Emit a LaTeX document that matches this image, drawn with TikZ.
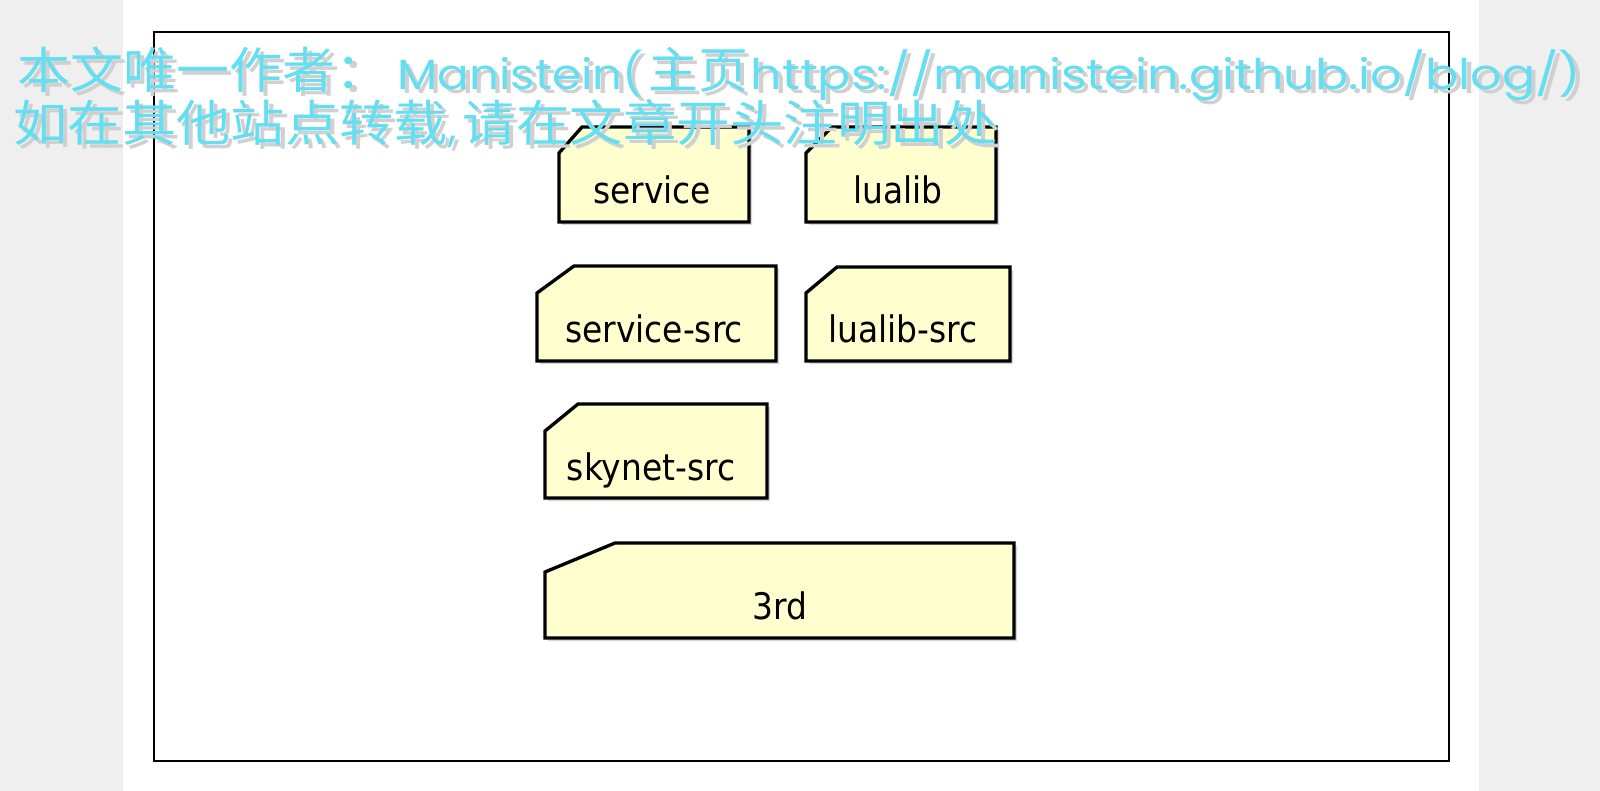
\documentclass[tikz,border=0pt]{standalone}
\usepackage{fontspec}
\setmainfont{DejaVu Sans Condensed}
\newfontfamily\wmcjk{Noto Sans CJK SC}
\newfontfamily\wmlat{Poppins}
\definecolor{pkgfill}{RGB}{254,254,206}
\definecolor{pkgshadow}{RGB}{215,215,215}
\definecolor{sidegray}{RGB}{239,239,239}
\definecolor{wmcyan}{RGB}{100,222,240}
\definecolor{wmshadow}{RGB}{208,208,208}
\newcommand\wmtext[1]{\makebox[0pt][l]{\hspace{1.1pt}\raisebox{-1.1pt}{\textcolor{wmshadow}{#1}}}\textcolor{wmcyan}{#1}}
\newcommand\pkgbox[6]{%
  \fill[pkgshadow] ({#1+3},{#2+#6+3}) -- ({#1+#5+3},{#2+3}) -- ({#3+3},{#2+3}) -- ({#3+3},{#4+3}) -- ({#1+3},{#4+3}) -- cycle;
  \draw[pkg] (#1,{#2+#6}) -- ({#1+#5},#2) -- (#3,#2) -- (#3,#4) -- (#1,#4) -- cycle;}
\tikzset{
  pkg/.style={draw=black, fill=pkgfill, line width=0.95pt, line join=miter},
  lbl/.style={anchor=base, inner sep=0pt, font=\fontsize{10.4pt}{12pt}\selectfont},
  wm/.style={anchor=base west, inner sep=0pt},
}
\begin{document}
\begin{tikzpicture}[x=0.01cm, y=-0.01cm]
\useasboundingbox (0,0) rectangle (1600,791);
\fill[white] (0,0) rectangle (1600,791);
\fill[sidegray] (0,0) rectangle (123,791);
\fill[sidegray] (1479,0) rectangle (1600,791);
\draw[line width=0.8pt] (154,32) rectangle (1449,761);
% packages
\pkgbox{559}{127}{749}{222}{23}{26}
\pkgbox{806}{127}{996}{222}{26}{26}
\pkgbox{537}{266}{776}{361}{37}{27}
\pkgbox{806}{267}{1010}{361}{31}{26}
\pkgbox{545}{404}{767}{498}{33}{27}
\pkgbox{545}{543}{1014}{638}{70}{29}
\node[lbl] (service)    at (652,203) {service};
\node[lbl] (lualib)     at (898,203) {lualib};
\node[lbl] (servicesrc) at (654,342) {service-src};
\node[lbl] (lualibsrc)  at (903,342) {lualib-src};
\node[lbl] (skynetsrc)  at (651,480) {skynet-src};
\node[lbl] (third)      at (780,619) {3rd};
% watermark
\node[wm] (wm1) at (17,89) {\resizebox{3.71cm}{\height}{\fontsize{14pt}{16pt}\wmcjk\wmtext{本文唯一作者：}}};
\node[wm] (wm2) at (397,90) {\resizebox{2.46cm}{\height}{\fontsize{12pt}{14pt}\wmlat\wmtext{Manistein(}}};
\node[wm] (wm3) at (648,89) {\resizebox{1.00cm}{\height}{\fontsize{14pt}{16pt}\wmcjk\wmtext{主页}}};
\node[wm] (wm4) at (750,90) {\resizebox{8.30cm}{\height}{\fontsize{12pt}{14pt}\wmlat\wmtext{https://manistein.github.io/blog/)}}};
\node[wm] (wm5) at (13,142) {\resizebox{4.34cm}{\height}{\fontsize{14pt}{16pt}\wmcjk\wmtext{如在其他站点转载}}};
\node[wm] (wm6) at (448,142) {\fontsize{12pt}{14pt}\wmlat\wmtext{,}};
\node[wm] (wm7) at (462,142) {\resizebox{5.35cm}{\height}{\fontsize{14pt}{16pt}\wmcjk\wmtext{请在文章开头注明出处}}};
\end{tikzpicture}
\end{document}
